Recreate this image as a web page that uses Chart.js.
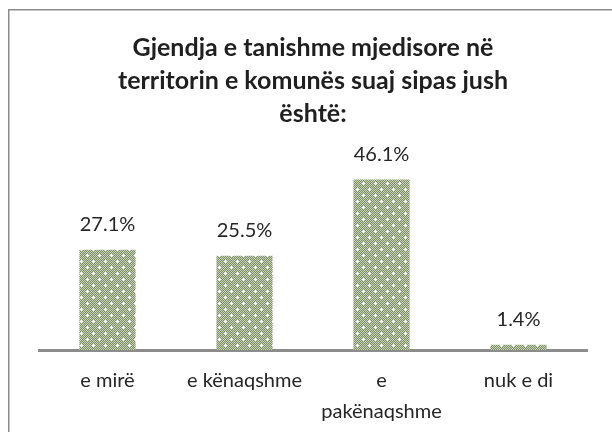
<!DOCTYPE html>
<html>
<head>
<meta charset="utf-8">
<script src="https://cdn.jsdelivr.net/npm/chart.js@4/dist/chart.umd.min.js"></script>
<style>
  html, body { margin: 0; padding: 0; background: #fff; overflow: hidden; }
  #wrap { position: relative; width: 612px; height: 432px; }
</style>
</head>
<body>
<div id="wrap"><canvas id="chart" width="612" height="432"></canvas></div>
<script>
// ── Data ─────────────────────────────────────────────────
const titleLines = ['Gjendja e tanishme mjedisore në', 'territorin e komunës suaj sipas jush', 'është:'];
const categories = [['e mirë'], ['e kënaqshme'], ['e', 'pakënaqshme'], ['nuk e di']];
const shares     = [27.1, 25.5, 46.1, 1.4];
const yMax       = 50;

// ── Bar fill: green dotted-grid pattern ──────────────────
function makePattern() {
    const tile = document.createElement('canvas');
    tile.width = 12; tile.height = 12;
    const t = tile.getContext('2d');
    t.fillStyle = '#7b8f62';
    t.fillRect(0, 0, 12, 12);
    t.fillStyle = '#c9d2bc';
    for (let y = 0; y < 12; y++) {
        for (let x = 0; x < 12; x++) {
            if ((x + y) % 2 === 0) t.fillRect(x, y, 1, 1);
        }
    }
    t.fillStyle = '#ffffff';
    [[3, 3], [9, 9]].forEach(([cx, cy]) => {
        t.fillRect(cx, cy - 1, 1, 3);
        t.fillRect(cx - 1, cy, 3, 1);
    });
    return t.createPattern(tile, 'repeat');
}

// ── Frame round the chart (cut off at right and bottom) ──
const framePlugin = {
    id: 'frame',
    beforeDraw(chart) {
        const ctx = chart.ctx;
        ctx.save();
        ctx.strokeStyle = '#8c8c8c';
        ctx.lineWidth = 1.5;
        ctx.strokeRect(8.75, 9.75, 700, 500);
        ctx.restore();
    }
};

// ── Value labels above bars ──────────────────────────────
const valueLabels = {
    id: 'valueLabels',
    afterDatasetsDraw(chart) {
        const ctx = chart.ctx;
        const meta = chart.getDatasetMeta(0);
        ctx.save();
        ctx.font = '20px Lato';
        ctx.fillStyle = '#262626';
        ctx.textAlign = 'center';
        ctx.textBaseline = 'middle';
        meta.data.forEach((bar, i) => {
            ctx.fillText(shares[i].toFixed(1) + '%', bar.x, bar.y - 25);
        });
        ctx.restore();
    }
};

const ctx = document.getElementById('chart').getContext('2d');
new Chart(ctx, {
    type: 'bar',
    data: {
        labels: categories,
        datasets: [{
            data:            shares,
            backgroundColor: makePattern(),
            borderWidth:     0,
            barPercentage:   0.41,
            categoryPercentage: 1
        }]
    },
    options: {
        responsive: false,
        animation:  false,
        layout: { padding: { left: 39, right: 25, top: 0, bottom: 0 } },
        plugins: {
            legend:  { display: false },
            tooltip: { enabled: false },
            title: {
                display: true,
                text:    titleLines,
                color:   '#1f1f1f',
                font:    { family: 'Lato', size: 25, weight: 'bold', lineHeight: 1.32 },
                padding: { top: 31, bottom: 35 }
            }
        },
        scales: {
            x: {
                grid:   { display: false, drawTicks: false },
                border: { display: true, color: '#8c8c8c', width: 3 },
                ticks:  {
                    color: '#262626',
                    font:  { family: 'Lato', size: 20, lineHeight: 1.55 },
                    padding: 15,
                    maxRotation: 0,
                    autoSkip: false
                },
                afterFit: scale => { scale.height = 82; }
            },
            y: {
                display: false,
                min: 0,
                max: yMax
            }
        }
    },
    plugins: [framePlugin, valueLabels]
});
</script>
</body>
</html>
